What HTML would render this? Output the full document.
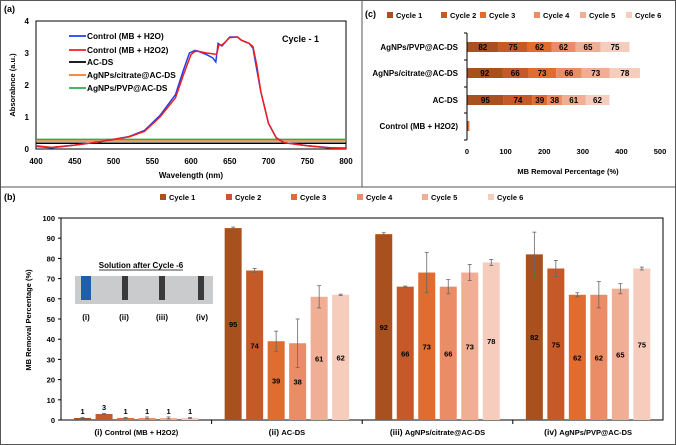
<!DOCTYPE html>
<html><head><meta charset="utf-8">
<style>
html,body{margin:0;padding:0;background:#fff;}
svg{display:block;font-family:"Liberation Sans",sans-serif;font-weight:bold;}
</style></head>
<body>
<svg id="fig" width="676" height="445" viewBox="0 0 676 445">
<rect x="0.5" y="0.5" width="675" height="444" fill="#fff" stroke="#555"/>
<line x1="362" y1="0" x2="362" y2="187" stroke="#555"/>
<line x1="0" y1="187" x2="676" y2="187" stroke="#555"/>
<g id="pa"></g>
<g id="pc"></g>
<g id="pb"></g>
</svg>
<script>
// ---------- Panel (a) data ----------
const wlRed = [400,420,450,480,500,520,540,560,580,590,600,605,610,620,630,633,636,640,650,660,665,675,680,685,690,700,710,720,750,780,800];
const absRed = [0.1,0.05,0.12,0.22,0.3,0.38,0.55,1.0,1.6,2.3,2.95,3.05,3.05,3.0,2.97,2.95,3.25,3.25,3.48,3.5,3.4,3.3,3.2,2.6,1.8,0.8,0.35,0.2,0.1,0.03,0.02];
const wlBlue = [400,420,450,480,500,520,540,560,580,590,598,605,610,620,628,632,635,640,650,660,665,675,680,684,690,700,710,720,750,780,800];
const absBlue = [0.08,0.04,0.12,0.22,0.3,0.39,0.58,1.05,1.7,2.45,3.0,3.08,3.05,2.95,2.85,2.72,3.3,3.22,3.5,3.5,3.4,3.3,3.15,2.6,1.8,0.8,0.35,0.2,0.1,0.04,0.03];
const flatNames = ["AC-DS","AgNPs/citrate@AC-DS","AgNPs/PVP@AC-DS"];
const flatValues = [0.18,0.25,0.3];
const aXTicks = [400,450,500,550,600,650,700,750,800];
const aYTicks = [0,1,2,3,4];

// ---------- Panel (b)/(c) data ----------
const groups = ["Control (MB + H2O2)","AC-DS","AgNPs/citrate@AC-DS","AgNPs/PVP@AC-DS"];
const groupTags = ["(i)","(ii)","(iii)","(iv)"];
const cycles = ["Cycle 1","Cycle 2","Cycle 3","Cycle 4","Cycle 5","Cycle 6"];
const vControl = [1,3,1,1,1,1];
const vACDS = [95,74,39,38,61,62];
const vCitrate = [92,66,73,66,73,78];
const vPVP = [82,75,62,62,65,75];
const eControl = [0.3,0.3,0.3,0.5,0.5,0.3];
const eACDS = [0.5,1,5,12,5.5,0.3];
const eCitrate = [0.7,0.3,10,3.5,4,1.5];
const ePVP = [11,4,1,6.5,2.5,0.7];
const bYTicks = [0,10,20,30,40,50,60,70,80,90,100];
const cXTicks = [0,100,200,300,400,500];
const colors = ["#A9501F","#C55A28","#E06C30","#EA8C66","#F0AE94","#F6CCBC"];
const allVals = [vControl,vACDS,vCitrate,vPVP];
const allErrs = [eControl,eACDS,eCitrate,ePVP];

const NS="http://www.w3.org/2000/svg";
function mk(parent,tag,attrs,text){const e=document.createElementNS(NS,tag);for(const k in attrs)e.setAttribute(k,attrs[k]);if(text!==undefined)e.textContent=text;parent.appendChild(e);return e;}

// ===== Panel A =====
const pa=document.getElementById('pa');
const ax=w=>36+(w-400)*(310/400), ay=v=>149-v*32;
let t=mk(pa,'text',{x:4,y:12,'font-size':9},'(a)');

let r=mk(pa,'rect',{x:36,y:21,width:310,height:128,fill:'none',stroke:'#000','stroke-width':1});

aXTicks.forEach(v=>{const e=mk(pa,'text',{x:ax(v),y:164,'font-size':8,'text-anchor':'middle'},v);
});
aYTicks.forEach(v=>{const e=mk(pa,'text',{x:29,y:ay(v)+3,'font-size':8,'text-anchor':'end'},v);
});
t=mk(pa,'text',{x:191,y:178,'font-size':8,'text-anchor':'middle'},'Wavelength (nm)');

t=mk(pa,'text',{x:0,y:0,'font-size':7.5,'text-anchor':'middle',transform:'translate(15,85) rotate(-90)'},'Absorabnce (a.u.)');

const flatColors=["#000","#F07C2F","#2EAE4A"];
flatValues.forEach((v,i)=>{const l=mk(pa,'line',{x1:ax(400),x2:ax(800),y1:ay(v),y2:ay(v),stroke:flatColors[i],'stroke-width':1.5});
});
let p=mk(pa,'polyline',{points:wlBlue.map((w,i)=>ax(w)+','+ay(absBlue[i])).join(' '),fill:'none',stroke:'#1F3FF0','stroke-width':1.5});

p=mk(pa,'polyline',{points:wlRed.map((w,i)=>ax(w)+','+ay(absRed[i])).join(' '),fill:'none',stroke:'#F01F1F','stroke-width':1.5});

const legA=[["Control (MB + H2O)","#1F3FF0"],["Control (MB + H2O2)","#F01F1F"],["AC-DS","#000"],["AgNPs/citrate@AC-DS","#F07C2F"],["AgNPs/PVP@AC-DS","#2EAE4A"]];
const legAy=[36,50,62,75,88];
legA.forEach((d,i)=>{const g=mk(pa,'g',{});
mk(g,'line',{x1:69,x2:86,y1:legAy[i],y2:legAy[i],stroke:d[1],'stroke-width':1.8});
mk(g,'text',{x:87,y:legAy[i]+3,'font-size':8.3},d[0]);});
t=mk(pa,'text',{x:282,y:42,'font-size':9},'Cycle - 1');


// ===== Panel C =====
const pc=document.getElementById('pc');
const cx=v=>467+v*(193/500);
t=mk(pc,'text',{x:365,y:17,'font-size':9},'(c)');

const legCx=[387,441,480,534,580,626];
cycles.forEach((c,i)=>{const g=mk(pc,'g',{});
mk(g,'rect',{x:legCx[i],y:12,width:6,height:6,fill:colors[i]});
mk(g,'text',{x:legCx[i]+9,y:18,'font-size':7.5},c);});
const catY=[126,100,73,47];
groups.forEach((gname,gi)=>{
  const lbl=mk(pc,'text',{x:458,y:catY[gi]+3,'font-size':8,'text-anchor':'end'},gname);
  
  let acc=0;
  allVals[gi].forEach((v,ci)=>{
    const rr=mk(pc,'rect',{x:cx(acc),y:catY[gi]-5,width:cx(acc+v)-cx(acc),height:10,fill:colors[ci]});
    
    if(gi>0){const tt=mk(pc,'text',{x:(cx(acc)+cx(acc+v))/2,y:catY[gi]+3,'font-size':8,'text-anchor':'middle'},v);
      }
    acc+=v;});
});
let l=mk(pc,'line',{x1:467,x2:467,y1:33,y2:140,stroke:'#000'});

[33,60,87,113,140].forEach(y=>mk(pc,'line',{x1:464,x2:467,y1:y,y2:y,stroke:'#000'}));
cXTicks.forEach(v=>{const e=mk(pc,'text',{x:cx(v),y:154,'font-size':7.5,'text-anchor':'middle'},v);
});
t=mk(pc,'text',{x:568,y:174,'font-size':7.5,'text-anchor':'middle'},'MB Removal Percentage (%)');


// ===== Panel B =====
const pb=document.getElementById('pb');
const by=v=>420-v*2.02;
const gx0=61, gw=150.6, pitch=21.5, bw=17;
t=mk(pb,'text',{x:4,y:200,'font-size':9},'(b)');

const legBx=[160,226,291,357,422,488];
cycles.forEach((c,i)=>{const g=mk(pb,'g',{});
mk(g,'rect',{x:legBx[i],y:194,width:6,height:6,fill:colors[i]});
mk(g,'text',{x:legBx[i]+9,y:200,'font-size':7.5},c);});
r=mk(pb,'rect',{x:61,y:218,width:602,height:202,fill:'none',stroke:'#000','stroke-width':1});

bYTicks.forEach(v=>{const e=mk(pb,'text',{x:55,y:by(v)+3,'font-size':7.5,'text-anchor':'end'},v);

mk(pb,'line',{x1:58,x2:61,y1:by(v),y2:by(v),stroke:'#000'});});
t=mk(pb,'text',{x:0,y:0,'font-size':7.5,'text-anchor':'middle',transform:'translate(31,320) rotate(-90)'},'MB Removal Percentage (%)');

groups.forEach((gname,gi)=>{
  const g0=gx0+gi*gw;
  if(gi>0) mk(pb,'line',{x1:g0,x2:g0,y1:420,y2:424,stroke:'#000'});
  const start=g0+(gw-6*pitch)/2+(pitch-bw)/2;
  allVals[gi].forEach((v,ci)=>{
    const x=start+ci*pitch;
    const rr=mk(pb,'rect',{x:x,y:by(v),width:bw,height:by(0)-by(v),fill:colors[ci]});
    
    const e=allErrs[gi][ci], xm=x+bw/2;
    const eb=mk(pb,'g',{stroke:'#666','stroke-width':0.8});
    
    mk(eb,'line',{x1:xm,x2:xm,y1:by(v+e),y2:by(v-e)});
    mk(eb,'line',{x1:xm-2,x2:xm+2,y1:by(v+e),y2:by(v+e)});
    mk(eb,'line',{x1:xm-2,x2:xm+2,y1:by(v-e),y2:by(v-e)});
    const ty = gi===0 ? by(v)-4 : by(v/2)+3;
    const tt=mk(pb,'text',{x:xm,y:ty,'font-size':7.5,'text-anchor':'middle'},v);
    
  });
  const cl=mk(pb,'text',{x:g0+gw/2,y:435,'font-size':7.5,'text-anchor':'middle'});
  
  mk(cl,'tspan',{'font-size':8.5},groupTags[gi]+'  ');
  mk(cl,'tspan',{},gname);
});
const ins=mk(pb,'g',{});
mk(ins,'text',{x:141,y:268,'font-size':8,'text-anchor':'middle'},'Solution after Cycle -6');
mk(ins,'line',{x1:99,x2:183,y1:270,y2:270,stroke:'#000','stroke-width':0.7});
mk(ins,'rect',{x:75,y:276,width:138,height:28,fill:'#C9CBCD'});
mk(ins,'rect',{x:81,y:276,width:10,height:24,fill:'#1E5FA8'});
mk(ins,'rect',{x:122,y:276,width:6,height:24,fill:'#3A3A3A'});
mk(ins,'rect',{x:159,y:276,width:6,height:24,fill:'#3A3A3A'});
mk(ins,'rect',{x:198,y:276,width:6,height:24,fill:'#3A3A3A'});
[["(i)",86],["(ii)",124],["(iii)",162],["(iv)",202]].forEach(d=>mk(ins,'text',{x:d[1],y:320,'font-size':8,'text-anchor':'middle'},d[0]));
</script>
</body></html>
